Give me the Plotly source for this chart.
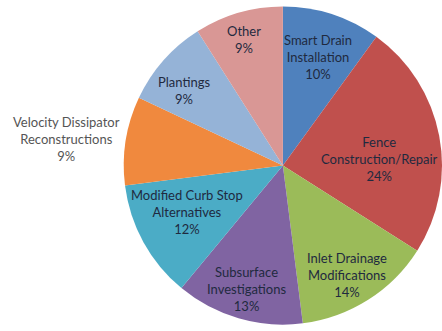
import math
import plotly.graph_objects as go

# ---- data ----
labels = ["Smart Drain<br>Installation", "Fence<br>Construction/Repair", "Inlet Drainage<br>Modifications",
          "Subsurface<br>Investigations", "Modified Curb Stop<br>Alternatives",
          "Velocity Dissipator<br>Reconstructions", "Plantings", "Other"]
values = [10, 24, 14, 13, 12, 9, 9, 9]

# ---- style ----
colors = ["#4F81BD", "#C0504D", "#9BBB59", "#8064A2", "#4BACC6", "#F0893E", "#95B3D7", "#D99795"]
label_radius = [0.72, 0.61, 0.80, 0.81, 0.67, 1.37, 0.78, 0.83]
label_angle_shift = [0, 7, 2, 0, 3, -2, -4.5, -1]
label_colors = ["#1F2A3F"] * 5 + ["#555555"] + ["#1F2A3F"] * 2

W, H = 442, 331
dom_x = [0.28, 1.0]
dom_y = [0.0, 1.0]

fig = go.Figure(go.Pie(
    labels=labels, values=values, sort=False, direction="clockwise", rotation=0,
    marker=dict(colors=colors, line=dict(width=0)),
    textinfo="none", hoverinfo="label+percent", showlegend=False,
    domain=dict(x=dom_x, y=dom_y),
))

cx_px = (dom_x[0] + dom_x[1]) / 2 * W
cy_px = (1 - (dom_y[0] + dom_y[1]) / 2) * H
R = min((dom_x[1] - dom_x[0]) * W, (dom_y[1] - dom_y[0]) * H) / 2
total = sum(values)
cum = 0
annotations = []
for i, (lab, v) in enumerate(zip(labels, values)):
    mid = (cum + v / 2) / total * 360 + label_angle_shift[i]
    cum += v
    th = math.radians(mid)
    px = cx_px + label_radius[i] * R * math.sin(th)
    py = cy_px - label_radius[i] * R * math.cos(th)
    pct = round(v / total * 100)
    annotations.append(dict(
        x=px / W, y=1 - py / H, xref="paper", yref="paper",
        text=f"{lab}<br>{pct}%", showarrow=False, align="center",
        xanchor="center", yanchor="middle",
        font=dict(family="Lato, sans-serif", size=13, color=label_colors[i]),
    ))

fig.update_layout(
    width=W, height=H, margin=dict(l=0, r=0, t=0, b=0),
    paper_bgcolor="white", plot_bgcolor="white",
    annotations=annotations,
)
fig.write_html("out.html")
